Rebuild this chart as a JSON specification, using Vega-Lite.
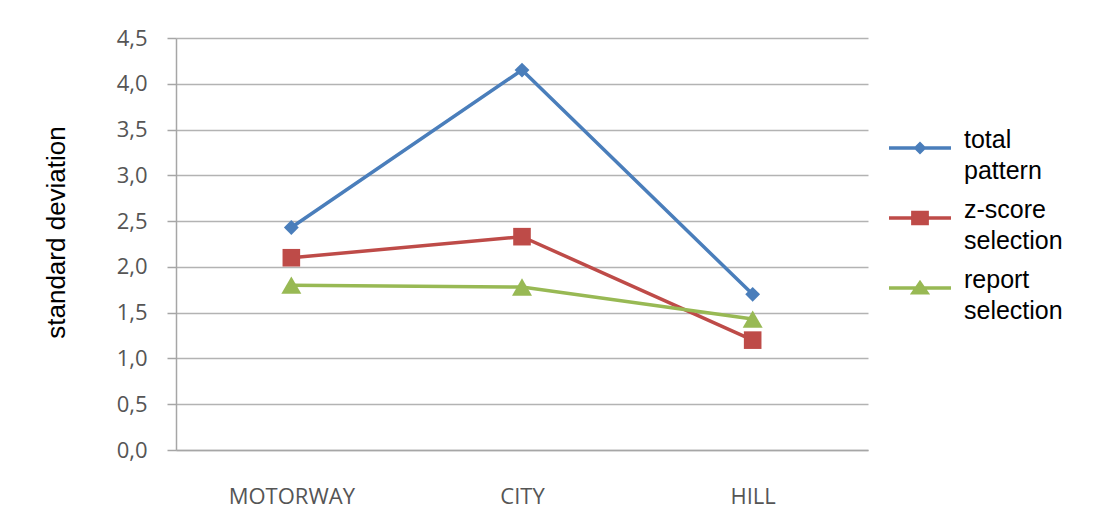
{
  "$schema": "https://vega.github.io/schema/vega-lite/v6.json",
  "width": 692,
  "height": 412,
  "autosize": {"type": "none"},
  "padding": {"left": 176, "top": 38, "right": 225, "bottom": 70},
  "background": "white",
  "config": {
    "view": {"stroke": null},
    "style": {"guide-label": {"lineHeight": 31}}
  },
  "data": {
    "values": [
      {"route": "MOTORWAY", "series": "total pattern", "sd": 2.43},
      {"route": "CITY", "series": "total pattern", "sd": 4.15},
      {"route": "HILL", "series": "total pattern", "sd": 1.70},
      {"route": "MOTORWAY", "series": "z-score selection", "sd": 2.10},
      {"route": "CITY", "series": "z-score selection", "sd": 2.33},
      {"route": "HILL", "series": "z-score selection", "sd": 1.20},
      {"route": "MOTORWAY", "series": "report selection", "sd": 1.80},
      {"route": "CITY", "series": "report selection", "sd": 1.78},
      {"route": "HILL", "series": "report selection", "sd": 1.43}
    ]
  },
  "encoding": {
    "x": {
      "field": "route",
      "type": "nominal",
      "sort": ["MOTORWAY", "CITY", "HILL"],
      "scale": {"type": "point", "padding": 0.5},
      "axis": {
        "title": null,
        "labelAngle": 0,
        "ticks": false,
        "domain": true,
        "domainColor": "#a6a6a6",
        "domainWidth": 1.5,
        "labelFont": "Open Sans",
        "labelFontSize": 22,
        "labelColor": "#555555",
        "labelBaseline": "middle",
        "labelPadding": 46,
        "grid": false
      }
    },
    "y": {
      "field": "sd",
      "type": "quantitative",
      "scale": {"domain": [0, 4.5], "nice": false},
      "axis": {
        "values": [0, 0.5, 1, 1.5, 2, 2.5, 3, 3.5, 4, 4.5],
        "labelExpr": "replace(format(datum.value, '.1f'), '.', ',')",
        "labelFont": "Open Sans",
        "labelFontSize": 22,
        "labelColor": "#555555",
        "labelPadding": 20,
        "tickSize": 9,
        "tickColor": "#a6a6a6",
        "tickWidth": 1.5,
        "domainColor": "#a6a6a6",
        "domainWidth": 1.5,
        "grid": true,
        "gridColor": "#b3b3b3",
        "gridWidth": 1.5,
        "title": "standard deviation",
        "titleFont": "Liberation Sans",
        "titleFontSize": 26,
        "titleFontWeight": "normal",
        "titleColor": "#000000",
        "titleBaseline": "middle",
        "titleX": -120,
        "titleY": 194
      }
    }
  },
  "layer": [
    {
      "mark": {"type": "line", "strokeWidth": 3.5},
      "encoding": {
        "color": {
          "field": "series",
          "type": "nominal",
          "scale": {
            "domain": ["total pattern", "z-score selection", "report selection"],
            "range": ["#4a7ebb", "#be4b48", "#98b954"]
          },
          "legend": null
        }
      }
    },
    {
      "mark": {"type": "point", "filled": true, "opacity": 1},
      "encoding": {
        "color": {
          "field": "series",
          "type": "nominal",
          "scale": {
            "domain": ["total pattern", "z-score selection", "report selection"],
            "range": ["#4a7ebb", "#be4b48", "#98b954"]
          },
          "legend": null
        },
        "shape": {
          "field": "series",
          "type": "nominal",
          "scale": {
            "domain": ["total pattern", "z-score selection", "report selection"],
            "range": ["diamond", "square", "triangle-up"]
          },
          "legend": null
        },
        "size": {
          "field": "series",
          "type": "nominal",
          "scale": {
            "domain": ["total pattern", "z-score selection", "report selection"],
            "range": [220, 400, 280]
          },
          "legend": null
        }
      }
    },
    {
      "mark": {"type": "point", "filled": false, "opacity": 0, "strokeWidth": 3.5},
      "encoding": {
        "color": {
          "field": "series",
          "type": "nominal",
          "scale": {
            "domain": ["total pattern", "z-score selection", "report selection"],
            "range": ["#4a7ebb", "#be4b48", "#98b954"]
          },
          "legend": {
            "title": null,
            "orient": "none",
            "legendX": 711,
            "legendY": 77,
            "padding": 0,
            "symbolSize": 3844,
            "symbolStrokeWidth": 3.5,
            "symbolOpacity": 1,
            "labelExpr": "split(datum.label, ' ')",
            "labelFont": "Liberation Sans",
            "labelFontSize": 25,
            "labelColor": "#000000",
            "labelBaseline": "alphabetic",
            "labelOffset": 11,
            "labelLimit": 300,
            "rowPadding": 1
          }
        },
        "shape": {
          "field": "series",
          "type": "nominal",
          "scale": {
            "domain": ["total pattern", "z-score selection", "report selection"],
            "range": [
              "M-1,0H1M0,-0.13L0.13,0L0,0.13L-0.13,0Z",
              "M-1,0H1M-0.23,-0.18H0.23V0.18H-0.23ZM-0.23,-0.09H0.23M-0.23,0.09H0.23",
              "M-1,0H1M-0.22,0.15L0.22,0.15L0,-0.17ZM-0.15,0.08H0.15M-0.05,-0.08H0.05"
            ]
          },
          "legend": {
            "title": null,
            "orient": "none",
            "legendX": 711,
            "legendY": 77,
            "padding": 0,
            "symbolSize": 3844,
            "symbolStrokeWidth": 3.5,
            "symbolOpacity": 1,
            "labelExpr": "split(datum.label, ' ')",
            "labelFont": "Liberation Sans",
            "labelFontSize": 25,
            "labelColor": "#000000",
            "labelBaseline": "alphabetic",
            "labelOffset": 11,
            "labelLimit": 300,
            "rowPadding": 1
          }
        }
      }
    }
  ],
  "resolve": {"scale": {"color": "independent", "shape": "independent", "size": "independent"}}
}
